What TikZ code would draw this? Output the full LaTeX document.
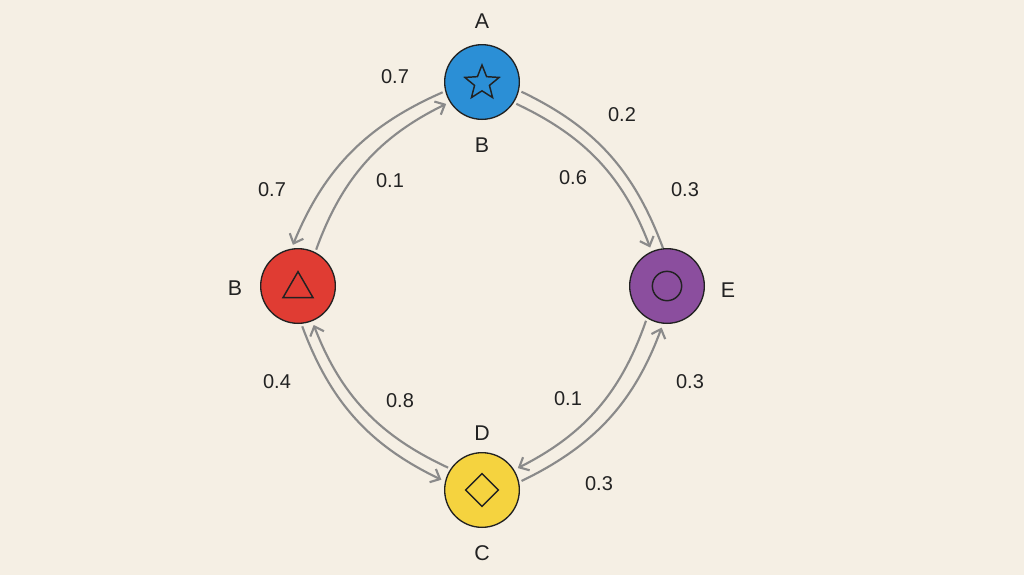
\documentclass[tikz,border=0pt]{standalone}
\usepackage{fontspec}
\setmainfont{Liberation Sans}
\usetikzlibrary{shapes.geometric,arrows.meta}
\definecolor{bg}{HTML}{F5EFE4}
\definecolor{cblue}{HTML}{2B8FD6}
\definecolor{cred}{HTML}{E03C33}
\definecolor{cpurple}{HTML}{8B4E9E}
\definecolor{cyellow}{HTML}{F5D33F}
\definecolor{arr}{HTML}{8A8A8A}
\definecolor{txt}{HTML}{222222}
\tikzset{
  st/.style={circle,draw=txt,line width=1pt,minimum size=56pt,inner sep=0pt},
  lab/.style={font=\fontsize{16}{19}\selectfont,text=txt},
  num/.style={font=\fontsize{15}{18}\selectfont,text=txt},
  con/.style={draw=arr,line width=1.6pt,-{Straight Barb[length=6pt,width=11pt]},shorten >=3pt,shorten <=2pt},
  plain/.style={draw=arr,line width=1.6pt,shorten <=2pt},
  sym/.style={draw=txt,line width=1.1pt,fill=none,inner sep=0pt}
}
\begin{document}
\begin{tikzpicture}[x=0.75pt,y=-0.75pt]
\fill[bg] (0,0) rectangle (1024,575);
\useasboundingbox (0,0) rectangle (1024,575);
\node[st,fill=cblue] (A) at (482,82) {};
\node[st,fill=cred] (B) at (298,286) {};
\node[st,fill=cpurple] (E) at (667,286) {};
\node[st,fill=cyellow] (D) at (482,490) {};
\node[sym,star,star points=5,star point ratio=2.3,minimum size=27pt] (As) at (482,83) {};
\node[sym,regular polygon,regular polygon sides=3,minimum size=26pt] (Bs) at (298,289) {};
\node[sym,circle,minimum size=22pt] (Es) at (667,286) {};
\node[sym,diamond,minimum width=25pt,minimum height=25pt] (Ds) at (482,490) {};
\node[lab] (la) at (482,21) {A};
\node[lab] (lb1) at (482,145) {B};
\node[lab] (lb2) at (235,288) {B};
\node[lab] (le) at (728,290) {E};
\node[lab] (ld) at (482,433) {D};
\node[lab] (lc) at (482,553) {C};
\draw[con] (A.194) to[bend right=22] (B.100);
\draw[con] (B.63) to[bend left=22] (A.212);
\draw[con] (A.327) to[bend left=22] (E.114);
\draw[plain] (A.347) to[bend left=22] (E.96);
\draw[con] (B.275) to[bend right=22] (D.167);
\draw[con] (D.146) to[bend left=22] (B.292);
\draw[con] (E.238) to[bend left=22] (D.32);
\draw[con] (D.12) to[bend right=22] (E.264);
\node[num] (n1) at (395,77) {0.7};
\node[num] (n2) at (272,190) {0.7};
\node[num] (n3) at (390,181) {0.1};
\node[num] (n4) at (622,115) {0.2};
\node[num] (n5) at (573,178) {0.6};
\node[num] (n6) at (685,190) {0.3};
\node[num] (n7) at (277,382) {0.4};
\node[num] (n8) at (400,401) {0.8};
\node[num] (n9) at (568,399) {0.1};
\node[num] (n10) at (690,382) {0.3};
\node[num] (n11) at (599,484) {0.3};
\end{tikzpicture}
\end{document}
